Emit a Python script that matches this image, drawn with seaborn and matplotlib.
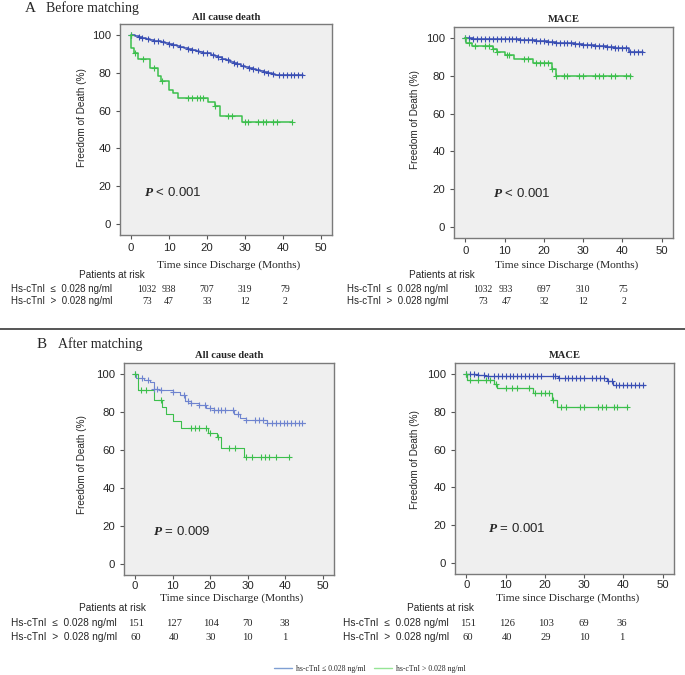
import numpy as np
import matplotlib
matplotlib.use("Agg")
import matplotlib.pyplot as plt
import seaborn as sns
from matplotlib.lines import Line2D
from matplotlib.transforms import blended_transform_factory

# ---- data ----
# A, all cause death
a_all_lo_t = [0, 1, 2, 3, 4, 5, 6, 7, 8, 9, 10, 11, 12, 13, 14, 15, 16, 17, 18, 19, 20, 21, 22, 23, 24,
              25, 26, 27, 28, 29, 30, 31, 32, 33, 34, 35, 36, 37, 38, 45.3]
a_all_lo_s = [100, 99.4, 98.9, 98.4, 98.0, 97.5, 97.0, 96.6, 96.1, 95.7, 95.3, 94.9, 94.4, 93.6, 93.1,
              92.6, 92.2, 91.7, 91.1, 90.6, 90.2, 89.5, 88.9, 88.2, 87.4, 86.5, 85.8, 85.2, 84.6, 83.8,
              83.1, 82.7, 82.0, 81.6, 81.0, 80.4, 79.9, 79.4, 78.9, 78.9]
a_all_lo_c = [0, 2, 3, 4.5, 6, 7, 8.5, 10, 11, 13, 15, 16, 17.5, 19, 20, 21.5, 23, 24, 25.5, 27, 28,
              29.5, 31, 32, 33.5, 35, 36, 37.5, 39, 40, 41, 42, 43, 44, 45]
a_all_hi_t = [0, 0.1, 0.9, 1.8, 4.9, 7.0, 8.0, 10.1, 11.0, 12.3, 20.2, 22.0, 23.4, 29.2, 42.5]
a_all_hi_s = [100, 93.0, 90.3, 87.3, 82.4, 78.5, 75.6, 71.0, 69.1, 66.6, 64.4, 62.5, 57.4, 53.9, 53.9]
a_all_hi_c = [0, 1.1, 3.1, 6, 8.1, 15, 16, 17.3, 18.2, 19, 22.2, 25.4, 26.5, 30, 30.7, 33.5, 34.7,
              35.6, 37.5, 38.4, 42.3]

# A, MACE
a_mace_lo_t = [0, 2, 5, 10, 14, 18, 21, 23, 25, 28, 30, 33, 36, 38, 41.8, 45.2]
a_mace_lo_s = [100, 99.7, 99.5, 99.2, 98.8, 98.5, 98.0, 97.6, 97.2, 96.8, 96.2, 95.8, 95.3, 94.8, 92.8, 92.8]
a_mace_lo_c = [0, 1, 2, 3, 4, 5, 6, 7, 8, 9, 10, 11, 12, 13, 14, 15, 16, 17, 18, 19, 20, 21, 22, 23, 24,
               25, 26, 27, 28, 29, 30, 31, 32, 33, 34, 35, 36, 37, 38, 39, 40, 41, 42, 43, 44, 45]
a_mace_hi_t = [0, 0.1, 1.8, 7.0, 8.0, 10.0, 12.3, 17.2, 22.0, 23.0, 42.2]
a_mace_hi_s = [100, 97.4, 96.0, 94.4, 92.6, 90.8, 88.8, 86.5, 83.6, 80.0, 80.0]
a_mace_hi_c = [0, 1, 2.5, 5, 6, 7, 8, 10.5, 11, 15, 16, 18, 19, 20, 21, 22, 23, 25, 26, 29, 30, 33,
               34, 35, 37, 38, 41, 42]

# B, all cause death
b_all_lo_t = [0, 0.3, 2.5, 4, 5, 6.5, 10, 12, 13.3, 15, 17, 19, 21, 26.4, 28, 29.4, 35, 45.2]
b_all_lo_s = [100, 98.0, 97.1, 95.8, 92.2, 91.5, 90.3, 89.2, 85.8, 84.5, 83.5, 82.2, 80.8, 79.0, 77.0,
              75.9, 74.4, 74.4]
b_all_lo_c = [0, 2, 3.5, 5, 6, 7, 10, 13, 14, 15, 17, 18.5, 20, 21, 22, 23, 24, 26, 27.5, 29.5, 32, 33,
              34, 35, 36.5, 37.5, 38.5, 39.5, 40.5, 41.5, 42.5, 43.5, 44.5]
b_all_hi_t = [0, 0.7, 5.0, 7.2, 8.3, 10.0, 12.2, 19.5, 21.7, 22.8, 29.0, 41.2]
b_all_hi_s = [100, 91.5, 86.2, 82.4, 79.0, 75.3, 71.4, 69.2, 66.6, 61.0, 56.4, 56.4]
b_all_hi_c = [0, 1.5, 3, 7, 15, 16, 17, 19, 20, 22, 25, 26.5, 29.5, 31, 33.5, 34.5, 35.5, 37.5, 41]

# B, MACE
b_mace_lo_t = [0, 2.9, 4.7, 23.4, 35.8, 37.3, 45.5]
b_mace_lo_s = [100, 99.5, 98.8, 98.0, 96.4, 94.2, 94.2]
b_mace_lo_c = [0, 1, 2, 3, 4.5, 5.5, 7, 8, 9, 10, 11, 12, 13, 14, 15, 16, 17, 18, 19, 22, 22.5, 23.5,
               25, 26, 27, 28, 29, 30, 32, 33, 34, 35, 36, 37, 38, 39, 40, 41, 42, 43, 44, 45]
b_mace_hi_t = [0, 0.2, 7.0, 7.8, 17.1, 21.8, 23.0, 41.3]
b_mace_hi_s = [100, 97.0, 94.8, 92.6, 90.1, 86.4, 82.5, 82.5]
b_mace_hi_c = [0, 1, 3, 5, 6, 7.5, 10, 11.5, 13, 16, 17.5, 19, 20, 21, 22, 24, 25.5, 29, 30, 33.5, 34.5,
               35.5, 37.5, 38.5, 41]

# numbers at risk
risk_times = [0, 10, 20, 30, 40]
a_all_risk_lo = [1032, 938, 707, 319, 79]
a_all_risk_hi = [73, 47, 33, 12, 2]
a_mace_risk_lo = [1032, 933, 697, 310, 75]
a_mace_risk_hi = [73, 47, 32, 12, 2]
b_all_risk_lo = [151, 127, 104, 70, 38]
b_all_risk_hi = [60, 40, 30, 10, 1]
b_mace_risk_lo = [151, 126, 103, 69, 36]
b_mace_risk_hi = [60, 40, 29, 10, 1]

p_texts = ["< 0.001", "< 0.001", "= 0.009", "= 0.001"]
titles = ["All cause death", "MACE", "All cause death", "MACE"]
x_ticks = [0, 10, 20, 30, 40, 50]
y_ticks = [0, 20, 40, 60, 80, 100]
group_labels = ["hs-cTnI \u2264 0.028 ng/ml", "hs-cTnI > 0.028 ng/ml"]
row_labels = ["Hs-cTnI  \u2264  0.028 ng/ml", "Hs-cTnI  >  0.028 ng/ml"]

W, H = 685, 675
BLUE_A = "#3a4fb4"
BLUE_B = "#6f84cf"
GREEN = "#3cbf4c"

sns.set_style("white")
plt.rcParams["font.family"] = ["Liberation Sans", "DejaVu Sans"]
plt.rcParams["mathtext.fontset"] = "custom"
plt.rcParams["mathtext.it"] = "Liberation Serif:italic:bold"
SERIF = ["Liberation Serif", "DejaVu Serif"]

fig = plt.figure(figsize=(W / 100, H / 100), dpi=100)


def fx(px):
    return px / W


def fy(py):
    return 1 - py / H


def step_at(times, surv, c):
    i = np.searchsorted(times, c, side="right") - 1
    return np.asarray(surv)[i]


# column nudges of the risk numbers (first one sits right of the long row label in A)
shift_a_all = [4.2, 0, 0, 0, 0.5]
shift_a_mace = [4.5, 0.4, 0, 0, 0.3]
shift_b = [0.3, 0.3, 0.2, 0.0, -0.3]

panels = [
    dict(box=(120, 24, 332, 235), lo=(a_all_lo_t, a_all_lo_s, a_all_lo_c),
         hi=(a_all_hi_t, a_all_hi_s, a_all_hi_c), risk=(a_all_risk_lo, a_all_risk_hi),
         p=(0.113, 0.20), yl=(-0.156, 0.555), blue=BLUE_A, lw=1.1, xpad=2.6,
         time_y=265, par_y=275, par_x=112, rows_y=(289, 301), lab_x=11,
         shift=shift_a_all, lab_fs=7.0, par_fs=7.2, num_fs=7.0, title_y=18),
    dict(box=(454, 27, 673, 238), lo=(a_mace_lo_t, a_mace_lo_s, a_mace_lo_c),
         hi=(a_mace_hi_t, a_mace_hi_s, a_mace_hi_c), risk=(a_mace_risk_lo, a_mace_risk_hi),
         p=(0.178, 0.213), yl=(-0.155, 0.56), blue=BLUE_A, lw=1.1, xpad=2.6,
         time_y=265, par_y=275, par_x=442, rows_y=(289, 301), lab_x=347,
         shift=shift_a_mace, lab_fs=7.0, par_fs=7.2, num_fs=7.0, title_y=19),
    dict(box=(124, 363, 334, 575), lo=(b_all_lo_t, b_all_lo_s, b_all_lo_c),
         hi=(b_all_hi_t, b_all_hi_s, b_all_hi_c), risk=(b_all_risk_lo, b_all_risk_hi),
         p=(0.138, 0.203), yl=(-0.176, 0.52), blue=BLUE_B, lw=0.8, xpad=1.2,
         time_y=598, par_y=608, par_x=112, rows_y=(623, 637), lab_x=11,
         shift=shift_b, lab_fs=7.3, par_fs=7.3, num_fs=7.6, title_y=356),
    dict(box=(455, 363, 674, 574), lo=(b_mace_lo_t, b_mace_lo_s, b_mace_lo_c),
         hi=(b_mace_hi_t, b_mace_hi_s, b_mace_hi_c), risk=(b_mace_risk_lo, b_mace_risk_hi),
         p=(0.15, 0.218), yl=(-0.16, 0.54), blue=BLUE_A, lw=0.9, xpad=1.2,
         time_y=598, par_y=608, par_x=440, rows_y=(623, 637), lab_x=343,
         shift=shift_b, lab_fs=7.3, par_fs=7.3, num_fs=7.6, title_y=356),
]

for k, pn in enumerate(panels):
    l, t, r, b = pn["box"]
    ax = fig.add_axes([fx(l), fy(b), fx(r - l), (b - t) / H])
    ax.set_facecolor("#efefef")
    for s in ax.spines.values():
        s.set_color("#7a7a7a")
        s.set_linewidth(1.0)

    for (times, surv, cens), col in [(pn["lo"], pn["blue"]), (pn["hi"], GREEN)]:
        sns.lineplot(x=times, y=surv, drawstyle="steps-post", color=col, lw=pn["lw"],
                     ax=ax, legend=False, errorbar=None, estimator=None, sort=False)
        cy = [step_at(times, surv, c) for c in cens]
        sns.scatterplot(x=cens, y=cy, marker="+", s=13, color=col, linewidth=0.8,
                        ax=ax, legend=False, zorder=3)

    ax.set_xlim(-2.9, 52.9)
    ax.set_ylim(-5.8, 105.8)
    ax.set_xticks(x_ticks)
    ax.set_yticks(y_ticks)
    ax.tick_params(axis="both", direction="out", length=3, width=0.8, color="#555555",
                   labelsize=8.2, pad=3.5, bottom=True, left=True)
    ax.tick_params(axis="x", pad=pn["xpad"])
    ax.set_ylabel("Freedom of Death (%)", fontsize=7.2)
    ax.yaxis.set_label_coords(*pn["yl"])
    ax.set_xlabel("")
    ax.text(0.5, 1 - (pn["title_y"] - t) / (b - t), titles[k], transform=ax.transAxes,
            ha="center", va="center", fontsize=7.6, fontweight="bold", family=SERIF,
            clip_on=False)
    ax.text(pn["p"][0], pn["p"][1], r"$\mathit{P}$" + " " + p_texts[k], transform=ax.transAxes,
            ha="left", va="center", fontsize=9.5)

    # table under the panel
    cx = (l + r) / 2
    fig.text(fx(cx + 3), fy(pn["time_y"]), "Time since Discharge (Months)", ha="center",
             va="center", fontsize=8.2, family=SERIF)
    fig.text(fx(pn["par_x"]), fy(pn["par_y"]), "Patients at risk", ha="center", va="center",
             fontsize=pn["par_fs"])
    tr = blended_transform_factory(ax.transData, fig.transFigure)
    for row, (lab, vals) in enumerate(zip(row_labels, pn["risk"])):
        ry = fy(pn["rows_y"][row])
        fig.text(fx(pn["lab_x"]), ry, lab, ha="left", va="center", fontsize=pn["lab_fs"])
        for tm, dx, v in zip(risk_times, pn["shift"], vals):
            ax.text(tm + dx, ry, str(v), transform=tr, ha="center", va="center",
                    fontsize=pn["num_fs"], family=SERIF, clip_on=False)

# section headers
fig.text(fx(25), fy(8), "A", ha="left", va="center", fontsize=11, family=SERIF)
fig.text(fx(46), fy(8), "Before matching", ha="left", va="center", fontsize=10, family=SERIF)
fig.text(fx(37), fy(344), "B", ha="left", va="center", fontsize=11, family=SERIF)
fig.text(fx(58), fy(344), "After matching", ha="left", va="center", fontsize=10, family=SERIF)

# separator
fig.add_artist(Line2D([0, 1], [fy(329), fy(329)], color="#555555", lw=1.4,
                      transform=fig.transFigure))

# legend
handles = [Line2D([], [], color="#7f9fd3", lw=1.0), Line2D([], [], color="#95e595", lw=1.0)]
fig.legend(handles, group_labels, loc="center", bbox_to_anchor=(fx(370), fy(669)), ncol=2,
           frameon=False, prop={"family": SERIF, "size": 5.6}, handlelength=2.3,
           columnspacing=1.0, handletextpad=0.6)

fig.savefig("out.png", dpi=100)
